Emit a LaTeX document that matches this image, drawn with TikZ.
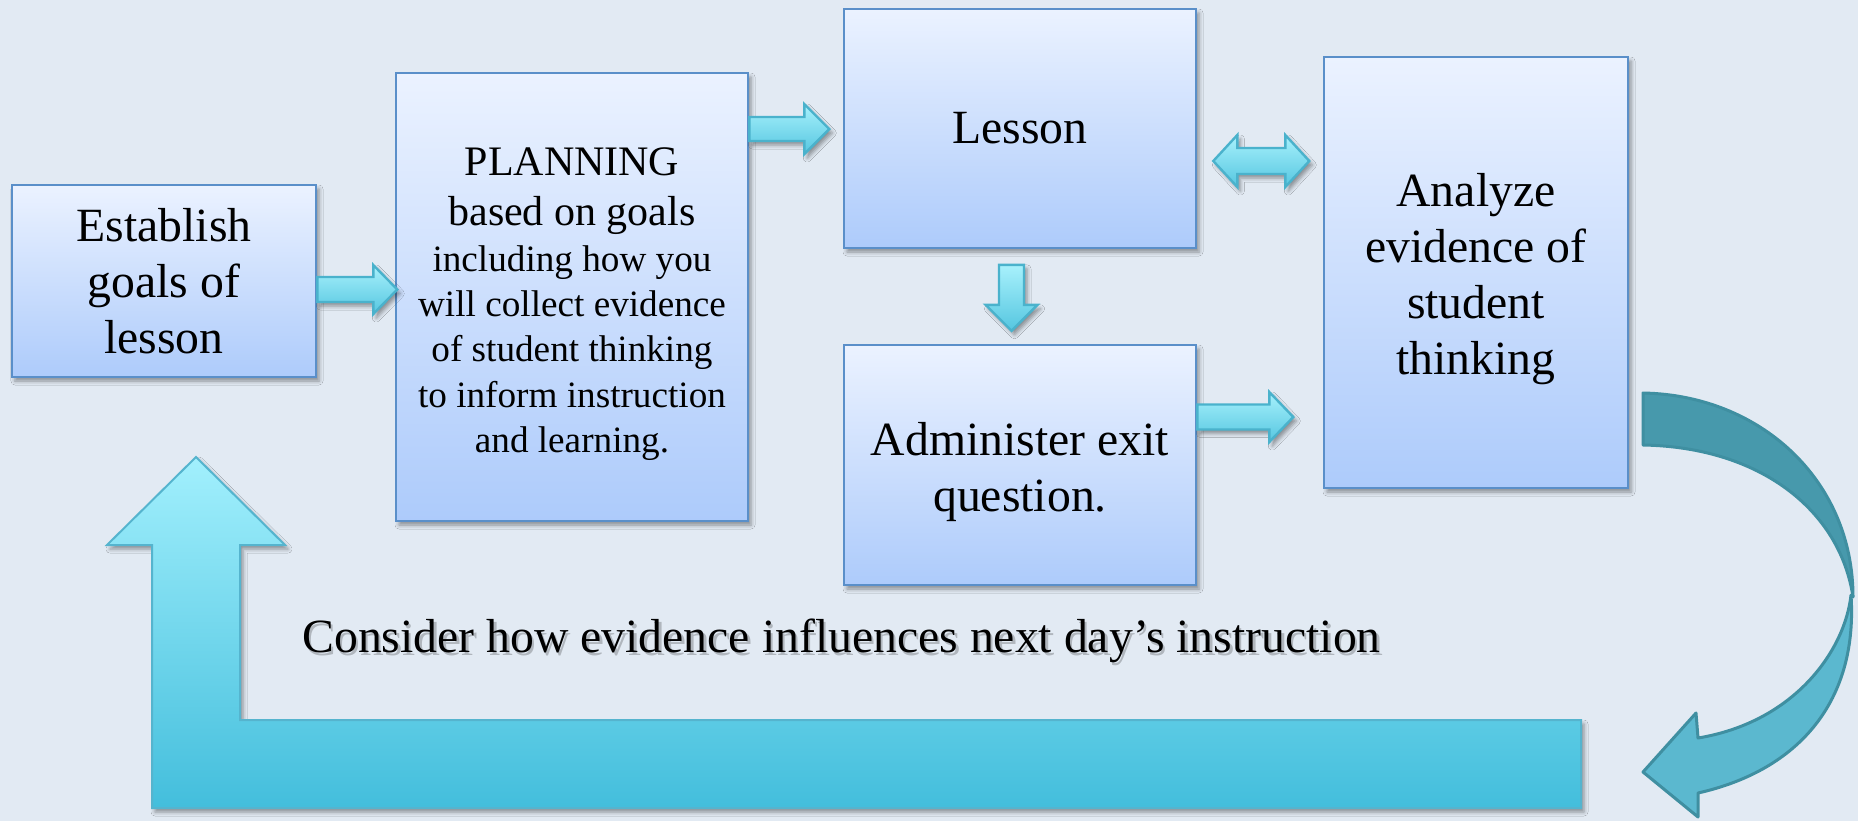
\documentclass[tikz,border=0pt]{standalone}
\usepackage{fontspec}
\setmainfont{Liberation Serif}
\usetikzlibrary{calc,shadows.blur}

\definecolor{bgc}{HTML}{E2EAF3}
\definecolor{boxtop}{HTML}{EBF2FF}
\definecolor{boxbot}{HTML}{ADCBFB}
\definecolor{boxline}{HTML}{5A8FC9}
\definecolor{arrtop}{HTML}{A8F1FC}
\definecolor{arrbot}{HTML}{55C6E0}
\definecolor{arrline}{HTML}{4AB2CC}
\definecolor{ltop}{HTML}{A2F0FD}
\definecolor{lbot}{HTML}{43BEDC}
\definecolor{lline}{HTML}{55B4CE}
\definecolor{curvedark}{HTML}{4799AC}
\definecolor{curvelight}{HTML}{5BB8CF}
\definecolor{curveline}{HTML}{3F8FA1}

\tikzset{
  softshadow/.style={blur shadow={shadow xshift=1.5pt, shadow yshift=-2pt,
      shadow blur radius=2pt, shadow opacity=40}},
  flowbox/.style={draw=boxline, line width=1.3pt, top color=boxtop,
      bottom color=boxbot, align=center, inner sep=0pt, softshadow,
      font=\fontsize{23.85}{28}\selectfont},
  blockarrow/.style={draw=arrline, line width=1.2pt, top color=arrtop,
      bottom color=arrbot, softshadow},
  % one-headed block arrow: length / shaft half-width / head half-width / head length
  pics/rblock/.style n args={4}{code={
    \path[blockarrow] (0,-#2) -- ({#1-#4},-#2) -- ({#1-#4},-#3) -- (#1,0)
      -- ({#1-#4},#3) -- ({#1-#4},#2) -- (0,#2) -- cycle;
  }},
  % two-headed block arrow, same parameters
  pics/dblock/.style n args={4}{code={
    \path[blockarrow] (0,0) -- (#4,-#3) -- (#4,-#2) -- ({#1-#4},-#2)
      -- ({#1-#4},-#3) -- (#1,0) -- ({#1-#4},#3) -- ({#1-#4},#2)
      -- (#4,#2) -- (#4,#3) -- cycle;
  }},
}
\newcommand\bigline[1]{{\fontsize{21}{24.8}\selectfont #1}}

\begin{document}
\begin{tikzpicture}[x=0.5pt,y=-0.5pt]
  % page background
  \fill[bgc] (0,0) rectangle (1858,821);
  \useasboundingbox (0,0) rectangle (1858,821);

  % process boxes
  \node[flowbox, minimum width=152pt, minimum height=96pt] (goals) at (164,281)
    {Establish\\goals of\\lesson};
  \node[flowbox, font=\fontsize{18.6}{22.6}\selectfont,
        minimum width=176pt, minimum height=224pt] (plan) at (572,297)
    {\bigline{\rule{0pt}{21pt}PLANNING}\\[2.3pt]
     \bigline{based on goals}\\[0.4pt]
     including how you\\ will collect evidence\\
     of student thinking\\ to inform instruction\\ and learning.};
  \node[flowbox, minimum width=176pt, minimum height=119.5pt] (lesson) at (1020,128.5)
    {Lesson};
  \node[flowbox, minimum width=176pt, minimum height=120pt] (exitq) at (1020,465)
    {\rule{0pt}{23.3pt}Administer exit\\question.};
  \node[flowbox, minimum width=152pt, minimum height=215.5pt] (analyze) at (1476,272.5)
    {\rule{0pt}{23.3pt}Analyze\\evidence of\\student\\thinking};

  % block arrows between the boxes
  \pic at ($(goals.east)+(0,8.5)$) {rblock={80}{12.5}{24.5}{24}};
  \pic at ($(plan.east)+(0,-168)$) {rblock={80}{12}{25}{25}};
  \pic[rotate=-90] at ($(lesson.south)+(-8.5,15.5)$) {rblock={66}{12.5}{26}{26}};
  \pic at ($(exitq.east)+(0,-48)$) {rblock={96}{12.5}{25}{24}};
  \pic at ($(lesson.east)+(16,32.5)$) {dblock={96}{13}{26}{24}};

  % feedback loop: curved arrow on the right
  \path[draw=curveline, line width=1.5pt, fill=curvelight, line join=round]
    (1851,595) .. controls (1858,700) and (1800,770) .. (1698,793)
    -- (1698,817) -- (1643,772) -- (1696,713) -- (1698,738)
    .. controls (1795,722) and (1845,650) .. (1851,595) -- cycle;
  \path[draw=curveline, line width=1.5pt, fill=curvedark, line join=round]
    (1643,393) .. controls (1760,395) and (1853,480) .. (1853,597)
    .. controls (1840,510) and (1760,447) .. (1643,445) -- cycle;

  % feedback loop: L-shaped return arrow
  \path[draw=lline, line width=1pt, top color=ltop, bottom color=lbot, softshadow]
    (196,457) -- (285,545) -- (240,545) -- (240,720) -- (1581,720)
    -- (1581,808) -- (152,808) -- (152,545) -- (107,545) -- cycle;

  % caption with a soft text shadow
  \node[anchor=base west, inner sep=0pt, font=\fontsize{23.85}{28}\selectfont,
        text=black, opacity=0.22] (noteshadow) at (304.5,655)
    {Consider how evidence influences next day’s instruction};
  \node[anchor=base west, inner sep=0pt, font=\fontsize{23.85}{28}\selectfont] (note)
    at (302,652) {Consider how evidence influences next day’s instruction};
\end{tikzpicture}
\end{document}
